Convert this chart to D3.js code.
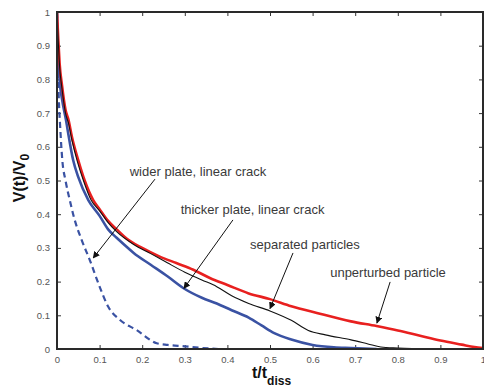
<!DOCTYPE html>
<html>
<head>
<meta charset="utf-8">
<script src="https://cdn.jsdelivr.net/npm/d3@7"></script>
<style>
  body { margin: 0; background: #fff; }
  text { font-family: "Liberation Sans", Helvetica, Arial, sans-serif; }
</style>
</head>
<body>
<div id="chart"></div>
<script>
// [t/t_diss, V/V0]
let unperturbed = [[0,1],[0.003,0.92],[0.006,0.85],[0.012,0.78],[0.02,0.71],[0.027,0.68],[0.035,0.63],[0.05,0.56],[0.065,0.5],[0.085,0.442],[0.1,0.415],[0.12,0.38],[0.14,0.355],[0.164,0.327],[0.2,0.3],[0.24,0.275],[0.28,0.255],[0.32,0.235],[0.36,0.21],[0.4,0.19],[0.45,0.165],[0.5,0.148],[0.55,0.127],[0.61,0.107],[0.69,0.082],[0.75,0.068],[0.8,0.055],[0.85,0.04],[0.9,0.025],[0.95,0.013],[0.98,0.006],[1.0,0.003]]
let separated = [[0,1],[0.003,0.91],[0.006,0.84],[0.012,0.77],[0.02,0.7],[0.027,0.67],[0.035,0.62],[0.047,0.56],[0.062,0.5],[0.08,0.442],[0.1,0.41],[0.12,0.375],[0.14,0.348],[0.18,0.31],[0.22,0.283],[0.26,0.255],[0.3,0.228],[0.34,0.205],[0.375,0.185],[0.41,0.158],[0.45,0.135],[0.5,0.113],[0.55,0.085],[0.59,0.055],[0.63,0.042],[0.69,0.027],[0.73,0.015],[0.76,0.006],[0.8,0.003],[0.88,0]]
let thickerPlate = [[0,1],[0.002,0.9],[0.006,0.8],[0.012,0.74],[0.021,0.68],[0.025,0.65],[0.038,0.56],[0.05,0.51],[0.0735,0.442],[0.1,0.395],[0.12,0.355],[0.14,0.33],[0.16,0.307],[0.18,0.285],[0.22,0.25],[0.26,0.215],[0.3,0.178],[0.34,0.152],[0.375,0.135],[0.41,0.115],[0.45,0.093],[0.48,0.07],[0.51,0.047],[0.55,0.028],[0.6,0.012],[0.65,0.005],[0.69,0.003],[0.75,0]]
let widerPlate = [[0,1],[0.002,0.85],[0.004,0.75],[0.007,0.67],[0.0125,0.56],[0.02,0.5],[0.03,0.442],[0.04,0.39],[0.058,0.323],[0.077,0.264],[0.1,0.185],[0.12,0.126],[0.148,0.086],[0.187,0.056],[0.234,0.017],[0.26,0.012],[0.3,0.008],[0.34,0.003],[0.38,0]]

let xTicks = [0,0.1,0.2,0.3,0.4,0.5,0.6,0.7,0.8,0.9,1]
let yTicks = [0,0.1,0.2,0.3,0.4,0.5,0.6,0.7,0.8,0.9,1]

let labels = [
  {text: "wider plate, linear crack", x: 0.331, y: 0.513, from: [0.23, 0.504], to: [0.085, 0.27]},
  {text: "thicker plate, linear crack", x: 0.459, y: 0.4, from: [0.413, 0.383], to: [0.298, 0.18]},
  {text: "separated particles", x: 0.582, y: 0.297, from: [0.554, 0.285], to: [0.5, 0.12]},
  {text: "unperturbed particle", x: 0.777, y: 0.214, from: [0.782, 0.199], to: [0.751, 0.077]}
]

let width = 484
let height = 386
let margin = {top: 12, right: 1, bottom: 37, left: 57}

let svg = d3.select("#chart").append("svg")
  .attr("width", width)
  .attr("height", height)

let xScale = d3.scaleLinear().domain([0, 1]).range([margin.left, width - margin.right])
let yScale = d3.scaleLinear().domain([0, 1]).range([height - margin.bottom, margin.top])

svg.append("defs").append("clipPath").attr("id", "plotclip")
  .append("rect")
  .attr("x", margin.left).attr("y", margin.top - 1)
  .attr("width", xScale(1) - margin.left).attr("height", yScale(0) - margin.top + 1)

svg.append("defs").append("marker")
  .attr("id", "arrow")
  .attr("viewBox", "0 0 10 10")
  .attr("refX", 9).attr("refY", 5)
  .attr("markerWidth", 7).attr("markerHeight", 7)
  .attr("markerUnits", "userSpaceOnUse")
  .attr("orient", "auto")
  .append("path").attr("d", "M0,0 L10,5 L0,10 z").attr("fill", "#111")

// axes with inward ticks, box style
let xAxisB = d3.axisBottom(xScale).tickValues(xTicks).tickSize(-4).tickPadding(7).tickFormat(d3.format("~g"))
let xAxisT = d3.axisTop(xScale).tickValues(xTicks).tickSize(-4).tickFormat("")
let yAxisL = d3.axisLeft(yScale).tickValues(yTicks).tickSize(-4).tickPadding(7).tickFormat(d3.format("~g"))
let yAxisR = d3.axisRight(yScale).tickValues(yTicks).tickSize(-4).tickFormat("")

function styleAxis(g) {
  g.select(".domain").remove()
  g.selectAll(".tick line").attr("stroke", "#333").attr("stroke-width", 1)
  g.selectAll(".tick text").attr("fill", "#555").attr("font-size", 9.5)
}

svg.append("g").attr("transform", `translate(0,${yScale(0)})`).call(xAxisB).call(styleAxis)
svg.append("g").attr("transform", `translate(0,${yScale(1)})`).call(xAxisT).call(styleAxis)
svg.append("g").attr("transform", `translate(${xScale(0)},0)`).call(yAxisL).call(styleAxis)
svg.append("g").attr("transform", `translate(${xScale(1)},0)`).call(yAxisR).call(styleAxis)

let line = d3.line()
  .x(function(d){ return xScale(d[0]) })
  .y(function(d){ return yScale(d[1]) })
  .curve(d3.curveMonotoneX)

let curves = svg.append("g").attr("clip-path", "url(#plotclip)")

curves.append("path").datum(widerPlate).attr("d", line)
  .attr("fill", "none").attr("stroke", "#3a52a3").attr("stroke-width", 2.2)
  .attr("stroke-dasharray", "6,4")
curves.append("path").datum(thickerPlate).attr("d", line)
  .attr("fill", "none").attr("stroke", "#3a52a3").attr("stroke-width", 2.6)
curves.append("path").datum(unperturbed).attr("d", line)
  .attr("fill", "none").attr("stroke", "#e8201f").attr("stroke-width", 2.6)
curves.append("path").datum(separated).attr("d", line)
  .attr("fill", "none").attr("stroke", "#111").attr("stroke-width", 1.1)

// frame
svg.append("rect")
  .attr("x", xScale(0)).attr("y", yScale(1))
  .attr("width", xScale(1) - xScale(0)).attr("height", yScale(0) - yScale(1))
  .attr("fill", "none").attr("stroke", "#2a2a2a").attr("stroke-width", 2)

// annotations
let notes = svg.append("g")
labels.forEach(function(l){
  notes.append("text")
    .attr("x", xScale(l.x)).attr("y", yScale(l.y))
    .attr("text-anchor", "middle")
    .attr("font-size", 13).attr("fill", "#3a3a3a")
    .text(l.text)
  notes.append("line")
    .attr("x1", xScale(l.from[0])).attr("y1", yScale(l.from[1]))
    .attr("x2", xScale(l.to[0])).attr("y2", yScale(l.to[1]))
    .attr("stroke", "#111").attr("stroke-width", 1)
    .attr("marker-end", "url(#arrow)")
})

// axis titles
let yTitle = svg.append("text")
  .attr("transform", `translate(25,178) rotate(-90)`)
  .attr("text-anchor", "middle")
  .attr("font-size", 16).attr("font-weight", "bold").attr("fill", "#111")
yTitle.append("tspan").text("V(t)/V")
yTitle.append("tspan").attr("font-size", 12).attr("dy", 4).text("0")

let xTitle = svg.append("text")
  .attr("x", 252).attr("y", 378)
  .attr("font-size", 16).attr("font-weight", "bold").attr("fill", "#111")
xTitle.append("tspan").text("t/t")
xTitle.append("tspan").attr("font-size", 12).attr("dy", 7).text("diss")
</script>
</body>
</html>
